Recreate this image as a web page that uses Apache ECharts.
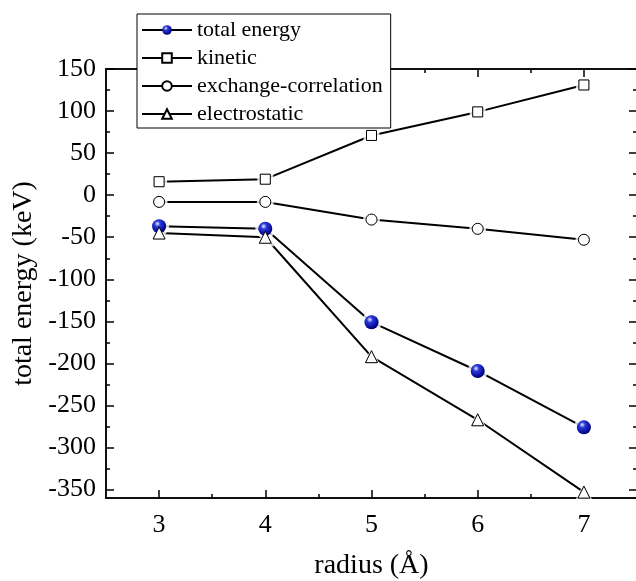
<!DOCTYPE html>
<html>
<head>
<meta charset="utf-8">
<script src="https://cdn.jsdelivr.net/npm/echarts@6.0.0/dist/echarts.min.js"></script>
<style>
  html, body { margin: 0; padding: 0; background: #fff; }
  #chart { width: 636px; height: 581px; }
</style>
</head>
<body>
<div id="chart"></div>
<script>
// energies vs radius
var radius = [3, 4, 5, 6, 7];
var totalEnergy = [-37, -40, -151, -209, -276];
var kinetic = [16, 19, 71, 99, 131];
var exchangeCorrelation = [-8, -8, -29, -40, -53];
var electrostatic = [-45, -50, -192, -267, -353];

var xMajor = [3, 4, 5, 6, 7];
var xMinor = [3.5, 4.5, 5.5, 6.5];
var yMajor = [-350, -300, -250, -200, -150, -100, -50, 0, 50, 100, 150];
var yMinor = [-325, -275, -225, -175, -125, -75, -25, 25, 75, 125];

(function () {
  var myChart = echarts.init(document.getElementById("chart"));
  var font = "Liberation Serif";
  var ball = {
    type: "radial", x: 0.38, y: 0.32, r: 0.7,
    colorStops: [
      { offset: 0, color: "#eef0ff" },
      { offset: 0.3, color: "#2a3ad8" },
      { offset: 0.75, color: "#0a10a0" },
      { offset: 1, color: "#000060" },
    ],
  };

  var sets = [
    { name: "total energy", data: totalEnergy, symbol: "circle", size: 14, fill: ball, border: 0 },
    { name: "kinetic", data: kinetic, symbol: "rect", size: 10, fill: "#fff", border: 1 },
    { name: "exchange-correlation", data: exchangeCorrelation, symbol: "circle", size: 11, fill: "#fff", border: 1 },
    { name: "electrostatic", data: electrostatic, symbol: "triangle", size: 12, fill: "#fff", border: 1 },
  ];

  function pairs(vals) {
    return radius.map(function (r, i) { return [r, vals[i]]; });
  }

  var series = [];
  sets.forEach(function (s) {
    series.push({
      name: s.name, type: "line", z: 2,
      data: pairs(s.data), symbol: s.symbol, symbolSize: s.size,
      lineStyle: { color: "#000", width: 2 },
      itemStyle: { color: s.fill, borderColor: "#000", borderWidth: s.border },
      emphasis: { disabled: true },
    });
  });
  // white halo so lines stop short of the markers
  sets.forEach(function (s) {
    series.push({
      name: s.name + " halo", type: "scatter", z: 3, silent: true,
      data: pairs(s.data), symbol: s.symbol, symbolSize: s.size + 6,
      itemStyle: { color: "#fff" },
    });
  });
  sets.forEach(function (s) {
    series.push({
      name: s.name + " mark", type: "scatter", z: 4, silent: true,
      data: pairs(s.data), symbol: s.symbol, symbolSize: s.size,
      itemStyle: { color: s.fill, borderColor: "#000", borderWidth: s.border, opacity: 1 },
    });
  });

  function xAx(pos, ticks, len, labels) {
    return {
      type: "value", position: pos, min: 2.5, max: 7.5,
      axisLine: { show: true, onZero: false, lineStyle: { color: "#000", width: 1.5 } },
      axisTick: { show: true, inside: true, length: len, customValues: ticks, lineStyle: { color: "#000", width: 1.5 } },
      axisLabel: labels
        ? { show: true, customValues: ticks, margin: 14, fontFamily: font, fontSize: 26, color: "#000" }
        : { show: false },
      splitLine: { show: false },
      name: labels ? "radius (Å)" : "",
      nameLocation: "middle", nameGap: 54,
      nameTextStyle: { fontFamily: font, fontSize: 28, color: "#000" },
    };
  }
  function yAx(pos, ticks, len, labels) {
    return {
      type: "value", position: pos, min: -360, max: 150,
      axisLine: { show: true, onZero: false, lineStyle: { color: "#000", width: 1.5 } },
      axisTick: { show: true, inside: true, length: len, customValues: ticks, lineStyle: { color: "#000", width: 1.5 } },
      axisLabel: labels
        ? { show: true, customValues: ticks, margin: 10, fontFamily: font, fontSize: 26, color: "#000" }
        : { show: false },
      splitLine: { show: false },
      name: labels ? "total energy (keV)" : "",
      nameLocation: "middle", nameGap: 48, nameRotate: 90,
      nameTextStyle: { fontFamily: font, fontSize: 28, color: "#000" },
    };
  }

  option = {
    backgroundColor: "#fff",
    animation: false,
    grid: { left: 106, top: 69, width: 531, height: 429, containLabel: false, outerBoundsMode: "none" },
    legend: {
      orient: "vertical",
      left: 137, top: 14,
      data: sets.map(function (s) { return s.name; }),
      backgroundColor: "#fff",
      borderColor: "#000", borderWidth: 1,
      padding: [5, 8, 3, 4],
      itemWidth: 50, itemHeight: 12, itemGap: 6,
      selectedMode: false,
      textStyle: { fontFamily: font, fontSize: 22, color: "#000", lineHeight: 22 },
      z: 10,
    },
    xAxis: [
      xAx("bottom", xMajor, 8, true),
      xAx("bottom", xMinor, 4, false),
      xAx("top", xMajor, 8, false),
      xAx("top", xMinor, 4, false),
    ],
    yAxis: [
      yAx("left", yMajor, 8, true),
      yAx("left", yMinor, 4, false),
      yAx("right", yMajor, 8, false),
      yAx("right", yMinor, 4, false),
    ],
    series: series,
  };
  myChart.setOption(option);
  window.addEventListener("resize", function () {
    myChart.resize();
  });
})();
</script>
</body>
</html>
